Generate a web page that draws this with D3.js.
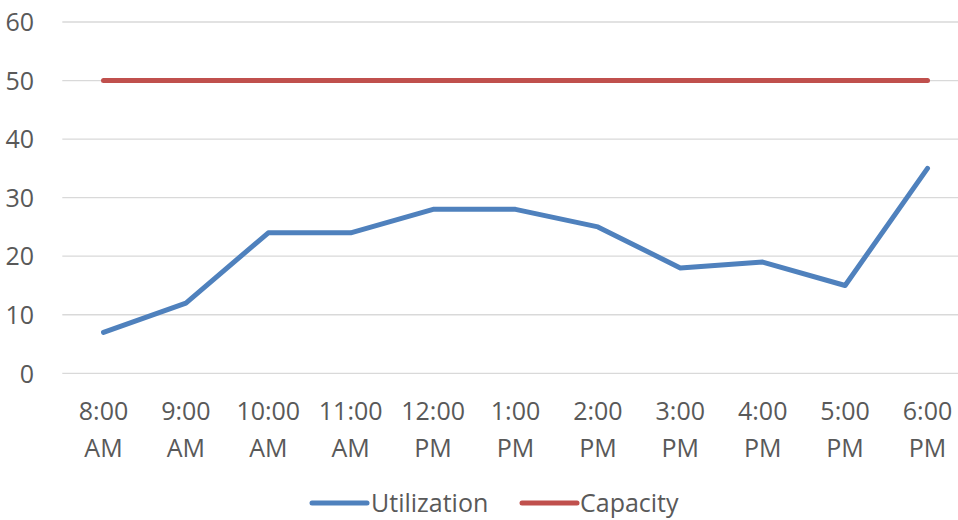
<!DOCTYPE html>
<html>
<head>
<meta charset="utf-8">
<script src="https://cdn.jsdelivr.net/npm/d3@7"></script>
<style>
  html, body { margin: 0; padding: 0; background: #fff; }
  svg { display: block; }
  text { font-family: "Open Sans", "Lato", sans-serif; fill: #595959; }
</style>
</head>
<body>
<svg id="chart" width="958" height="520"></svg>
<script>
// Hourly utilization against fixed capacity
const categories = ["8:00 AM", "9:00 AM", "10:00 AM", "11:00 AM", "12:00 PM", "1:00 PM",
                    "2:00 PM", "3:00 PM", "4:00 PM", "5:00 PM", "6:00 PM"];
const utilization = [7, 12, 24, 24, 28, 28, 25, 18, 19, 15, 35];
const capacity = [50, 50, 50, 50, 50, 50, 50, 50, 50, 50, 50];
const yTicks = [0, 10, 20, 30, 40, 50, 60];

const seriesList = [
  { name: "Utilization", values: utilization, color: "#4f81bd" },
  { name: "Capacity", values: capacity, color: "#c0504d" }
];

const svg = d3.select("#chart");
const W = 958;
const plotLeft = 62.3, plotRight = 968.7;

const x = d3.scalePoint().domain(categories).range([plotLeft, plotRight]).padding(0.5);
const y = d3.scaleLinear().domain([0, 60]).range([373.3, 22]);

// Horizontal gridlines
svg.append("g").selectAll("line").data(yTicks).join("line")
  .attr("x1", plotLeft).attr("x2", W)
  .attr("y1", d => y(d)).attr("y2", d => y(d))
  .attr("stroke", "#d9d9d9").attr("stroke-width", 1.3);

// Y axis labels
const yAxis = d3.axisLeft(y).tickValues(yTicks).tickSize(0).tickPadding(0);
const gy = svg.append("g").attr("transform", "translate(34,0)").call(yAxis);
gy.select(".domain").remove();
gy.selectAll("text").attr("font-size", 25).attr("font-family", null)
  .attr("fill", "#595959").attr("dy", "0.35em");

// X axis labels (two lines each)
const gx = svg.append("g");
gx.selectAll("text").data(categories).join("text")
  .attr("x", d => x(d)).attr("y", 420)
  .attr("text-anchor", "middle").attr("font-size", 25)
  .each(function(d) {
    const parts = d.split(" ");
    const t = d3.select(this);
    t.append("tspan").attr("x", x(d)).attr("dy", 0).text(parts[0]);
    t.append("tspan").attr("x", x(d)).attr("dy", 37).text(parts[1]);
  });

// Series lines
const line = d3.line().x((d, i) => x(categories[i])).y(d => y(d));
svg.append("g").selectAll("path").data(seriesList.slice().reverse()).join("path")
  .attr("d", s => line(s.values))
  .attr("fill", "none").attr("stroke", s => s.color)
  .attr("stroke-width", 5).attr("stroke-linejoin", "round").attr("stroke-linecap", "round");

// Legend
const legendY = 503;
const legendItems = [
  { s: seriesList[0], x0: 312, x1: 367, tx: 371 },
  { s: seriesList[1], x0: 522, x1: 577, tx: 580 }
];
const lg = svg.append("g");
legendItems.forEach(it => {
  lg.append("line").attr("x1", it.x0).attr("x2", it.x1).attr("y1", legendY).attr("y2", legendY)
    .attr("stroke", it.s.color).attr("stroke-width", 5).attr("stroke-linecap", "round");
  lg.append("text").attr("x", it.tx).attr("y", legendY).attr("dy", "0.35em")
    .attr("font-size", 25).text(it.s.name);
});
</script>
</body>
</html>
